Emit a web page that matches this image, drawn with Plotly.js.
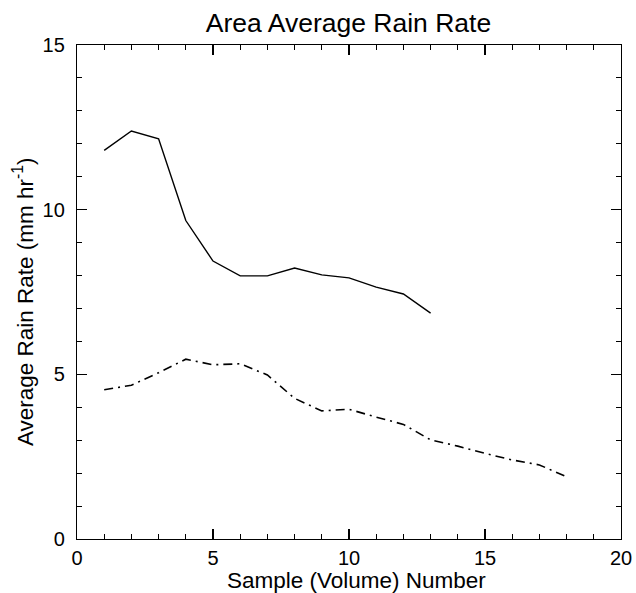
<!DOCTYPE html>
<html><head><meta charset="utf-8">
<script src="https://cdn.plot.ly/plotly-3.0.1.min.js"></script>
<style>html,body{margin:0;padding:0;background:#fff}#plot{width:636px;height:593px}</style>
</head><body><div id="plot"></div>
<script>
var sampleSolid = [1,2,3,4,5,6,7,8,9,10,11,12,13];
var rateSolid = [11.80,12.39,12.15,9.67,8.44,7.99,7.99,8.23,8.02,7.93,7.65,7.44,6.86];
var sampleDash = [1,2,3,4,5,6,7,8,9,10,11,12,13,14,15,16,17,18];
var rateDash = [4.53,4.67,5.05,5.46,5.29,5.32,4.98,4.27,3.89,3.94,3.70,3.48,3.01,2.82,2.60,2.40,2.25,1.89];
var titleText = 'Area Average Rain Rate';
var xTitle = 'Sample (Volume) Number';
var yTitle = 'Average Rain Rate (mm hr<sup>-1</sup>)';

var fam = 'Liberation Sans, Arial, sans-serif';
var traces = [
 {x:sampleSolid, y:rateSolid, mode:'lines', line:{color:'#000', width:1.4}, hoverinfo:'skip'},
 {x:sampleDash, y:rateDash, mode:'lines', line:{color:'#000', width:1.6, dash:'9px,5px,2px,5px'}, hoverinfo:'skip'}
];
function axis(extra){
  return Object.assign({
    showgrid:false, zeroline:false, showline:true, linecolor:'#000', linewidth:1.2,
    mirror:'ticks', ticks:'inside', ticklen:10, tickwidth:1.2, tickcolor:'#000',
    tickfont:{family:fam, size:20, color:'#000'},
    minor:{ticks:'inside', ticklen:5, tickwidth:1, tickcolor:'#000', dtick:1, showgrid:false}
  }, extra);
}
var layout = {
  width:636, height:593,
  margin:{l:77, r:15, t:45, b:54},
  paper_bgcolor:'#fff', plot_bgcolor:'#fff',
  showlegend:false,
  font:{family:fam, color:'#000'},
  title:{text:titleText, font:{family:fam, size:26.5, color:'#000'}, x:0.548, xanchor:'center', y:0.962, yanchor:'middle'},
  xaxis:axis({range:[0,20], dtick:5, tick0:0, ticklabelstandoff:1}),
  yaxis:axis({range:[0,15], dtick:5, tick0:0, ticklabelstandoff:7}),
  annotations:[
    {text:xTitle, xref:'paper', yref:'paper', x:0.5147, y:-0.0850, xanchor:'center', yanchor:'middle', showarrow:false,
     font:{family:fam, size:22.5, color:'#000'}},
    {text:yTitle, xref:'paper', yref:'paper', x:-0.099, y:0.4798, xanchor:'center', yanchor:'middle', showarrow:false, textangle:-90,
     font:{family:fam, size:22.5, color:'#000'}}
  ]
};
Plotly.newPlot('plot', traces, layout, {staticPlot:true, displayModeBar:false});
</script>
</body></html>
